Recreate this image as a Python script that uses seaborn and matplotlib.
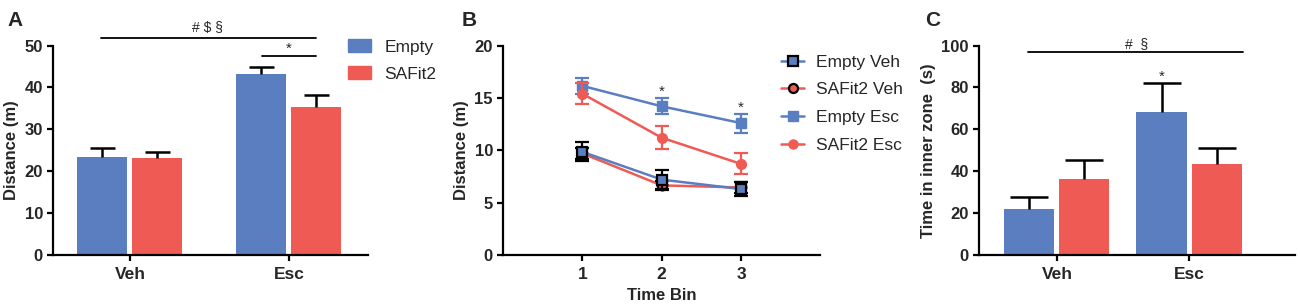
import numpy as np
import pandas as pd
import matplotlib
matplotlib.use("Agg")
import matplotlib.pyplot as plt
from matplotlib.lines import Line2D
from matplotlib.patches import Patch
import seaborn as sns

sns.set_style("ticks")
plt.rcParams['font.family'] = ['Liberation Sans', 'DejaVu Sans']

BLUE = "#5B7EC0"
RED = "#F05A55"

# ---------------- data ----------------
treatments = ["Veh", "Esc"]
groups = ["Empty", "SAFit2"]

# Panel A: distance (m)
a_empty = [23.3, 43.1]
a_empty_err = [2.2, 1.9]
a_safit = [23.1, 35.3]
a_safit_err = [1.6, 2.8]

# Panel B: distance per time bin
time_bins = [1, 2, 3]
b_series = ["Empty Veh", "SAFit2 Veh", "Empty Esc", "SAFit2 Esc"]
b_empty_veh = [9.85, 7.2, 6.3]
b_empty_veh_err = [0.9, 0.9, 0.7]
b_safit_veh = [9.7, 6.65, 6.45]
b_safit_veh_err = [0.5, 0.4, 0.5]
b_empty_esc = [16.15, 14.2, 12.6]
b_empty_esc_err = [0.75, 0.75, 0.9]
b_safit_esc = [15.4, 11.2, 8.7]
b_safit_esc_err = [1.0, 1.1, 1.0]

# Panel C: time in inner zone (s)
c_empty = [22.0, 68.5]
c_empty_err = [5.5, 13.5]
c_safit = [36.5, 43.3]
c_safit_err = [8.9, 7.8]

fig = plt.figure(figsize=(13, 3.08), dpi=100)

TICK_FS = 12.5
YTICK_FS = 12
LABEL_FS = 12


def style_axes(ax):
    sns.despine(ax=ax)
    for s in ["left", "bottom"]:
        ax.spines[s].set_linewidth(1.6)
        ax.spines[s].set_color("black")
    ax.tick_params(axis="both", width=1.6, length=4.3, color="black", pad=3)
    ax.tick_params(axis="x", pad=4, labelsize=TICK_FS)
    ax.tick_params(axis="y", labelsize=YTICK_FS)
    for lab in ax.get_xticklabels() + ax.get_yticklabels():
        lab.set_fontweight("bold")


def bar_panel(ax, emp, emp_err, saf, saf_err, width, capsize):
    df = pd.DataFrame({
        "treat": treatments * 2,
        "group": [groups[0]] * 2 + [groups[1]] * 2,
        "val": list(emp) + list(saf),
        "err": list(emp_err) + list(saf_err),
    })
    sns.barplot(data=df, x="treat", y="val", hue="group", order=treatments,
                hue_order=groups, palette=[BLUE, RED], errorbar=None,
                width=width, gap=0.09, saturation=1, ax=ax, legend=False,
                linewidth=0)
    bars = [p for p in ax.patches if p.get_height() > 0]
    for p in bars:
        h = p.get_height()
        x = p.get_x() + p.get_width() / 2
        row = df[np.isclose(df["val"], h)].iloc[0]
        eb = ax.errorbar([x], [h], yerr=[[0], [row["err"]]], fmt="none",
                         ecolor="black", elinewidth=1.8, capsize=capsize,
                         capthick=1.8, zorder=1)
        for cl in eb[1]:
            if np.isclose(cl.get_ydata()[0], h):
                cl.set_visible(False)
    ax.set_xlabel("")
    return bars

# ---------------- Panel A ----------------
axA = fig.add_axes([0.0408, 0.172, 0.2422, 0.680])
barsA = bar_panel(axA, a_empty, a_empty_err, a_safit, a_safit_err, 0.692, 9)
axA.set_ylim(0, 50)
axA.set_xlim(-0.484, 1.497)
axA.set_yticks([0, 10, 20, 30, 40, 50])
axA.set_ylabel("Distance (m)", fontsize=LABEL_FS, fontweight="bold", labelpad=4)
style_axes(axA)
axA.plot([-0.18, 1.17], [51.8, 51.8], color="black", lw=1.3, clip_on=False)
axA.text(0.49, 52.6, "# $ §", ha="center", va="bottom", fontsize=10)
axA.plot([0.83, 1.17], [47.5, 47.5], color="black", lw=1.3, clip_on=False)
axA.text(1.0, 47.6, "*", ha="center", va="bottom", fontsize=11)
axA.legend(handles=[Patch(color=BLUE, label="Empty"), Patch(color=RED, label="SAFit2")],
           loc="upper left", bbox_to_anchor=(0.915, 1.065), frameon=False,
           fontsize=12.5, handlelength=1.3, handleheight=0.8,
           labelspacing=0.65, handletextpad=0.8, borderaxespad=0)
fig.text(0.006, 0.965, "A", fontsize=15, fontweight="bold", va="top")

# ---------------- Panel B ----------------
axB = fig.add_axes([0.387, 0.172, 0.244, 0.680])
b_vals = [b_empty_veh, b_safit_veh, b_empty_esc, b_safit_esc]
b_errs = [b_empty_veh_err, b_safit_veh_err, b_empty_esc_err, b_safit_esc_err]
b_line_col = [BLUE, RED, BLUE, RED]
b_face = [BLUE, RED, BLUE, RED]
b_edge = ["black", "black", BLUE, RED]
b_err_col = ["black", "black", BLUE, RED]
b_marker = ["s", "o", "s", "o"]
b_order = [2, 3, 1, 0]  # drawing order
dfB = pd.DataFrame({
    "bin": time_bins * 4,
    "series": np.repeat(b_series, 3),
    "val": np.concatenate(b_vals),
})
handles = []
for z, i in enumerate(b_order):
    sub = dfB[dfB["series"] == b_series[i]]
    sns.lineplot(data=sub, x="bin", y="val", color=b_line_col[i], lw=1.8,
                 ax=axB, errorbar=None, legend=False, zorder=2 + z)
    axB.errorbar(time_bins, b_vals[i], yerr=b_errs[i], fmt="none",
                 ecolor=b_err_col[i], elinewidth=1.6, capsize=5, capthick=1.6,
                 zorder=2 + z)
    ms = 7.5 if b_marker[i] == "s" else 7
    axB.plot(time_bins, b_vals[i], ls="none", marker=b_marker[i], ms=ms,
             mfc=b_face[i], mec=b_edge[i], mew=1.6 if b_edge[i] == "black" else 1,
             zorder=2.5 + z)
for i in range(4):
    handles.append(Line2D([], [], color=b_line_col[i], lw=1.8, marker=b_marker[i],
                          ms=7 if b_marker[i] == "s" else 6.5, mfc=b_face[i],
                          mec=b_edge[i], mew=1.6 if b_edge[i] == "black" else 1,
                          label=b_series[i]))
axB.set_xlim(0, 4)
axB.set_ylim(0, 20)
axB.set_xticks(time_bins)
axB.set_yticks([0, 5, 10, 15, 20])
axB.set_xlabel("Time Bin", fontsize=LABEL_FS, fontweight="bold", labelpad=5)
axB.set_ylabel("Distance (m)", fontsize=LABEL_FS, fontweight="bold", labelpad=4)
style_axes(axB)
axB.text(2, 14.9, "*", ha="center", va="bottom", fontsize=11)
axB.text(3, 13.4, "*", ha="center", va="bottom", fontsize=11)
axB.legend(handles=handles, loc="upper left", bbox_to_anchor=(0.855, 0.99),
           frameon=False, fontsize=12.5, handlelength=1.3, labelspacing=0.72,
           handletextpad=0.7, borderaxespad=0)
fig.text(0.355, 0.965, "B", fontsize=15, fontweight="bold", va="top")

# ---------------- Panel C ----------------
axC = fig.add_axes([0.753, 0.172, 0.243, 0.680])
barsC = bar_panel(axC, c_empty, c_empty_err, c_safit, c_safit_err, 0.833, 14)
axC.set_ylim(0, 100)
axC.set_xlim(-0.59, 1.80)
axC.set_yticks([0, 20, 40, 60, 80, 100])
axC.set_ylabel("Time in inner zone  (s)", fontsize=LABEL_FS, fontweight="bold", labelpad=4)
style_axes(axC)
axC.plot([-0.22, 1.41], [96.7, 96.7], color="black", lw=1.3, clip_on=False)
axC.text(0.6, 97.6, "#  §", ha="center", va="bottom", fontsize=10)
axC.text(0.79, 82.0, "*", ha="center", va="bottom", fontsize=11)
fig.text(0.712, 0.965, "C", fontsize=15, fontweight="bold", va="top")

fig.savefig("out.png", dpi=100, facecolor="white")
